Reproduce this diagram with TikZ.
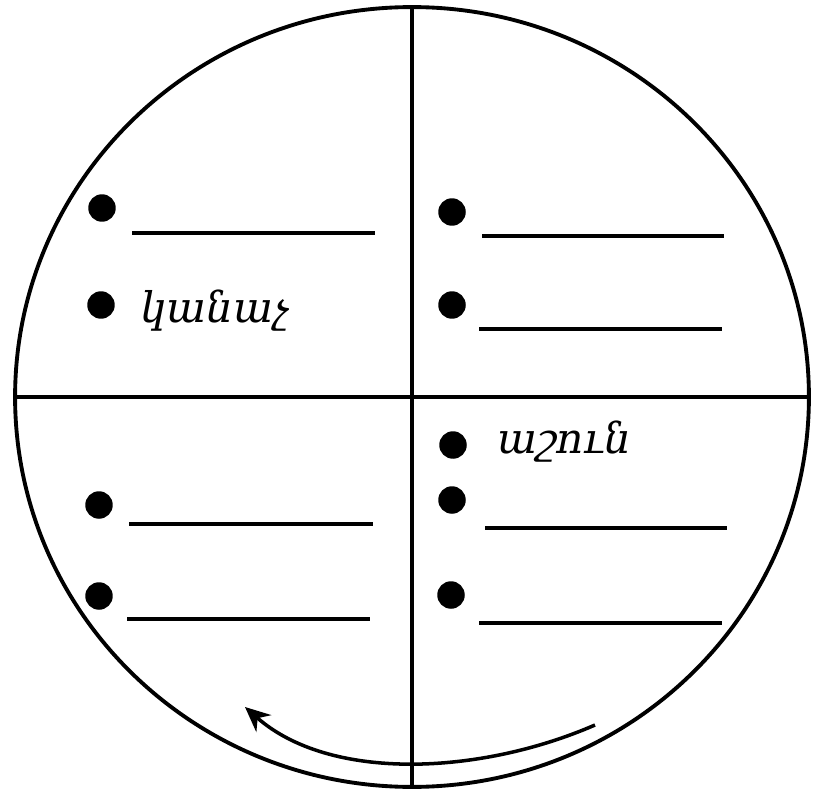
\documentclass[tikz,border=0pt]{standalone}
\usepackage{fontspec}
\newfontfamily\armfont{DejaVu Serif}
\usetikzlibrary{shapes.geometric, arrows.meta, positioning, calc}
\tikzset{
    disc_shape/.style={ellipse, draw, line width=2.2pt, inner sep=0pt, outer sep=0pt, minimum width=15.88cm, minimum height=15.6cm},
    dot_bullet/.style={circle, fill=black, inner sep=0pt, minimum size=0.55cm},
    blank_line/.style={line width=2.2pt},
    cross_line/.style={line width=2.2pt},
    arm_word/.style={font=\armfont\itshape\fontsize{24}{28}\selectfont, anchor=base west, inner sep=0pt},
    arrow/.style={-{Stealth[length=0.5cm, width=0.45cm]}, line width=2pt}
}
\begin{document}
\begin{tikzpicture}[x=0.02cm, y=-0.02cm]
			\useasboundingbox (0,0) rectangle (815,794);
			\node (disc) [disc_shape] at (412,397) {};
			\draw [cross_line] (disc.north) -- (disc.south);
			\draw [cross_line] (disc.west) -- (disc.east);
			
			% upper left
			\node (ul1) [dot_bullet] at (102,208) {};
			\node (ul2) [dot_bullet] at (101,305) {};
			\node (green_word) [arm_word] at (140,322) {կանաչ};
			\draw [blank_line] (132,233) -- (375,233);
			
			% upper right
			\node (ur1) [dot_bullet] at (452,212) {};
			\node (ur2) [dot_bullet] at (452,305) {};
			\draw [blank_line] (482,236) -- (724,236);
			\draw [blank_line] (479,329) -- (722,329);
			
			% lower left
			\node (ll1) [dot_bullet] at (99,505) {};
			\node (ll2) [dot_bullet] at (99,596) {};
			\draw [blank_line] (129,524) -- (373,524);
			\draw [blank_line] (127,619) -- (370,619);
			
			% lower right
			\node (lr0) [dot_bullet] at (453,445) {};
			\node (autumn_word) [arm_word] at (497,453) {աշուն};
			\node (lr1) [dot_bullet] at (452,500) {};
			\node (lr2) [dot_bullet] at (451,595) {};
			\draw [blank_line] (485,528) -- (727,528);
			\draw [blank_line] (479,623) -- (722,623);
			
			\coordinate (turn_start) at (595,725);
			\coordinate (turn_end) at (245,707);
			\draw [arrow] (turn_start) .. controls (480,775) and (330,782) .. (turn_end);
		\end{tikzpicture}
\end{document}
